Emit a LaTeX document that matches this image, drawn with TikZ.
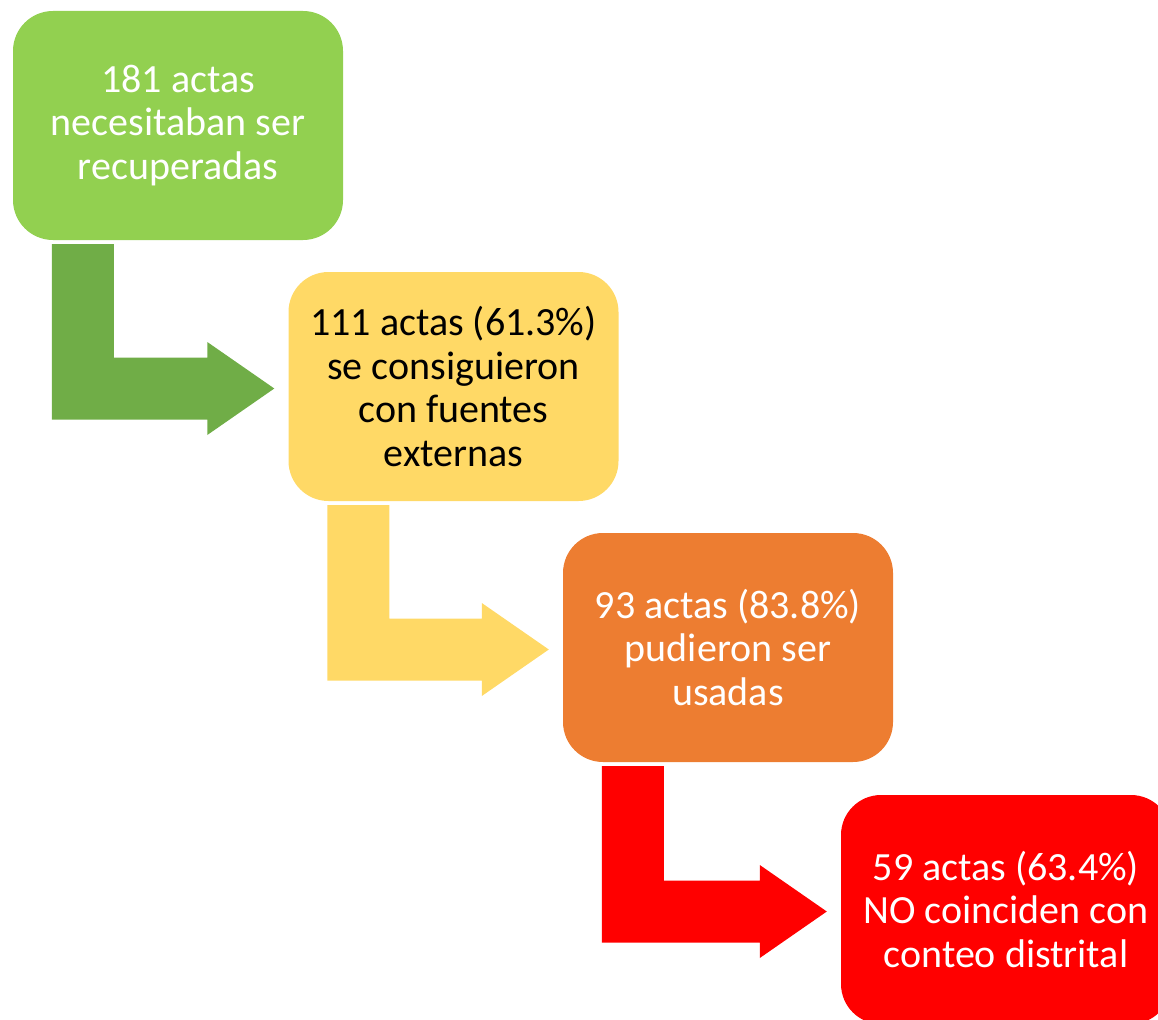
\documentclass[tikz,border=0pt]{standalone}
\usepackage{fontspec}
\setmainfont{Carlito}
\usepackage{tikz}
\usetikzlibrary{calc}
\definecolor{verdeclaro}{HTML}{92D050}
\definecolor{verdeoscuro}{HTML}{70AD47}
\definecolor{amarillo}{HTML}{FFD966}
\definecolor{naranja}{HTML}{ED7D31}
\definecolor{rojo}{HTML}{FF0000}
\tikzstyle{paso} = [rectangle, rounded corners=40pt, minimum width=330pt, minimum height=229pt, inner sep=0pt, align=center, font=\fontsize{40}{43.5}\selectfont]
% flecha en codo: baja desde #1 y entra por la izquierda de #2
\newcommand{\flechacodo}[3]{%
  \fill[#3] let \p1 = (#1.south west), \p2 = (#2.west) in
    (\x1+39pt,\y1-4pt) -- (\x1+101pt,\y1-4pt) -- (\x1+101pt,\y2+29pt)
    -- (\x2-81pt,\y2+29pt) -- (\x2-81pt,\y2+44.5pt) -- (\x2-14pt,\y2-2pt)
    -- (\x2-81pt,\y2-48.5pt) -- (\x2-81pt,\y2-33pt) -- (\x1+39pt,\y2-33pt) -- cycle;}

\begin{document}
\begin{tikzpicture}[x=1pt, y=-1pt]
            \useasboundingbox (0,0) rectangle (1158,1019);
            
            \node[paso, fill=verdeclaro, text=white] (recuperar) at (178,125.5) {181 actas\\necesitaban ser\\recuperadas};
            \node[paso, fill=amarillo, text=black] (externas) at (453.5,386.5) {111 actas (61.3\%)\\se consiguieron\\con fuentes\\externas};
            \node[paso, fill=naranja, text=white] (usadas) at (728,647.5) {93 actas (83.8\%)\\pudieron ser\\usadas};
            \node[paso, fill=rojo, text=white] (nocoinciden) at (1006,909.5) {59 actas (63.4\%)\\NO coinciden con\\conteo distrital};
            
            \flechacodo{recuperar}{externas}{verdeoscuro}
            \flechacodo{externas}{usadas}{amarillo}
            \flechacodo{usadas}{nocoinciden}{rojo}
        \end{tikzpicture}
\end{document}
